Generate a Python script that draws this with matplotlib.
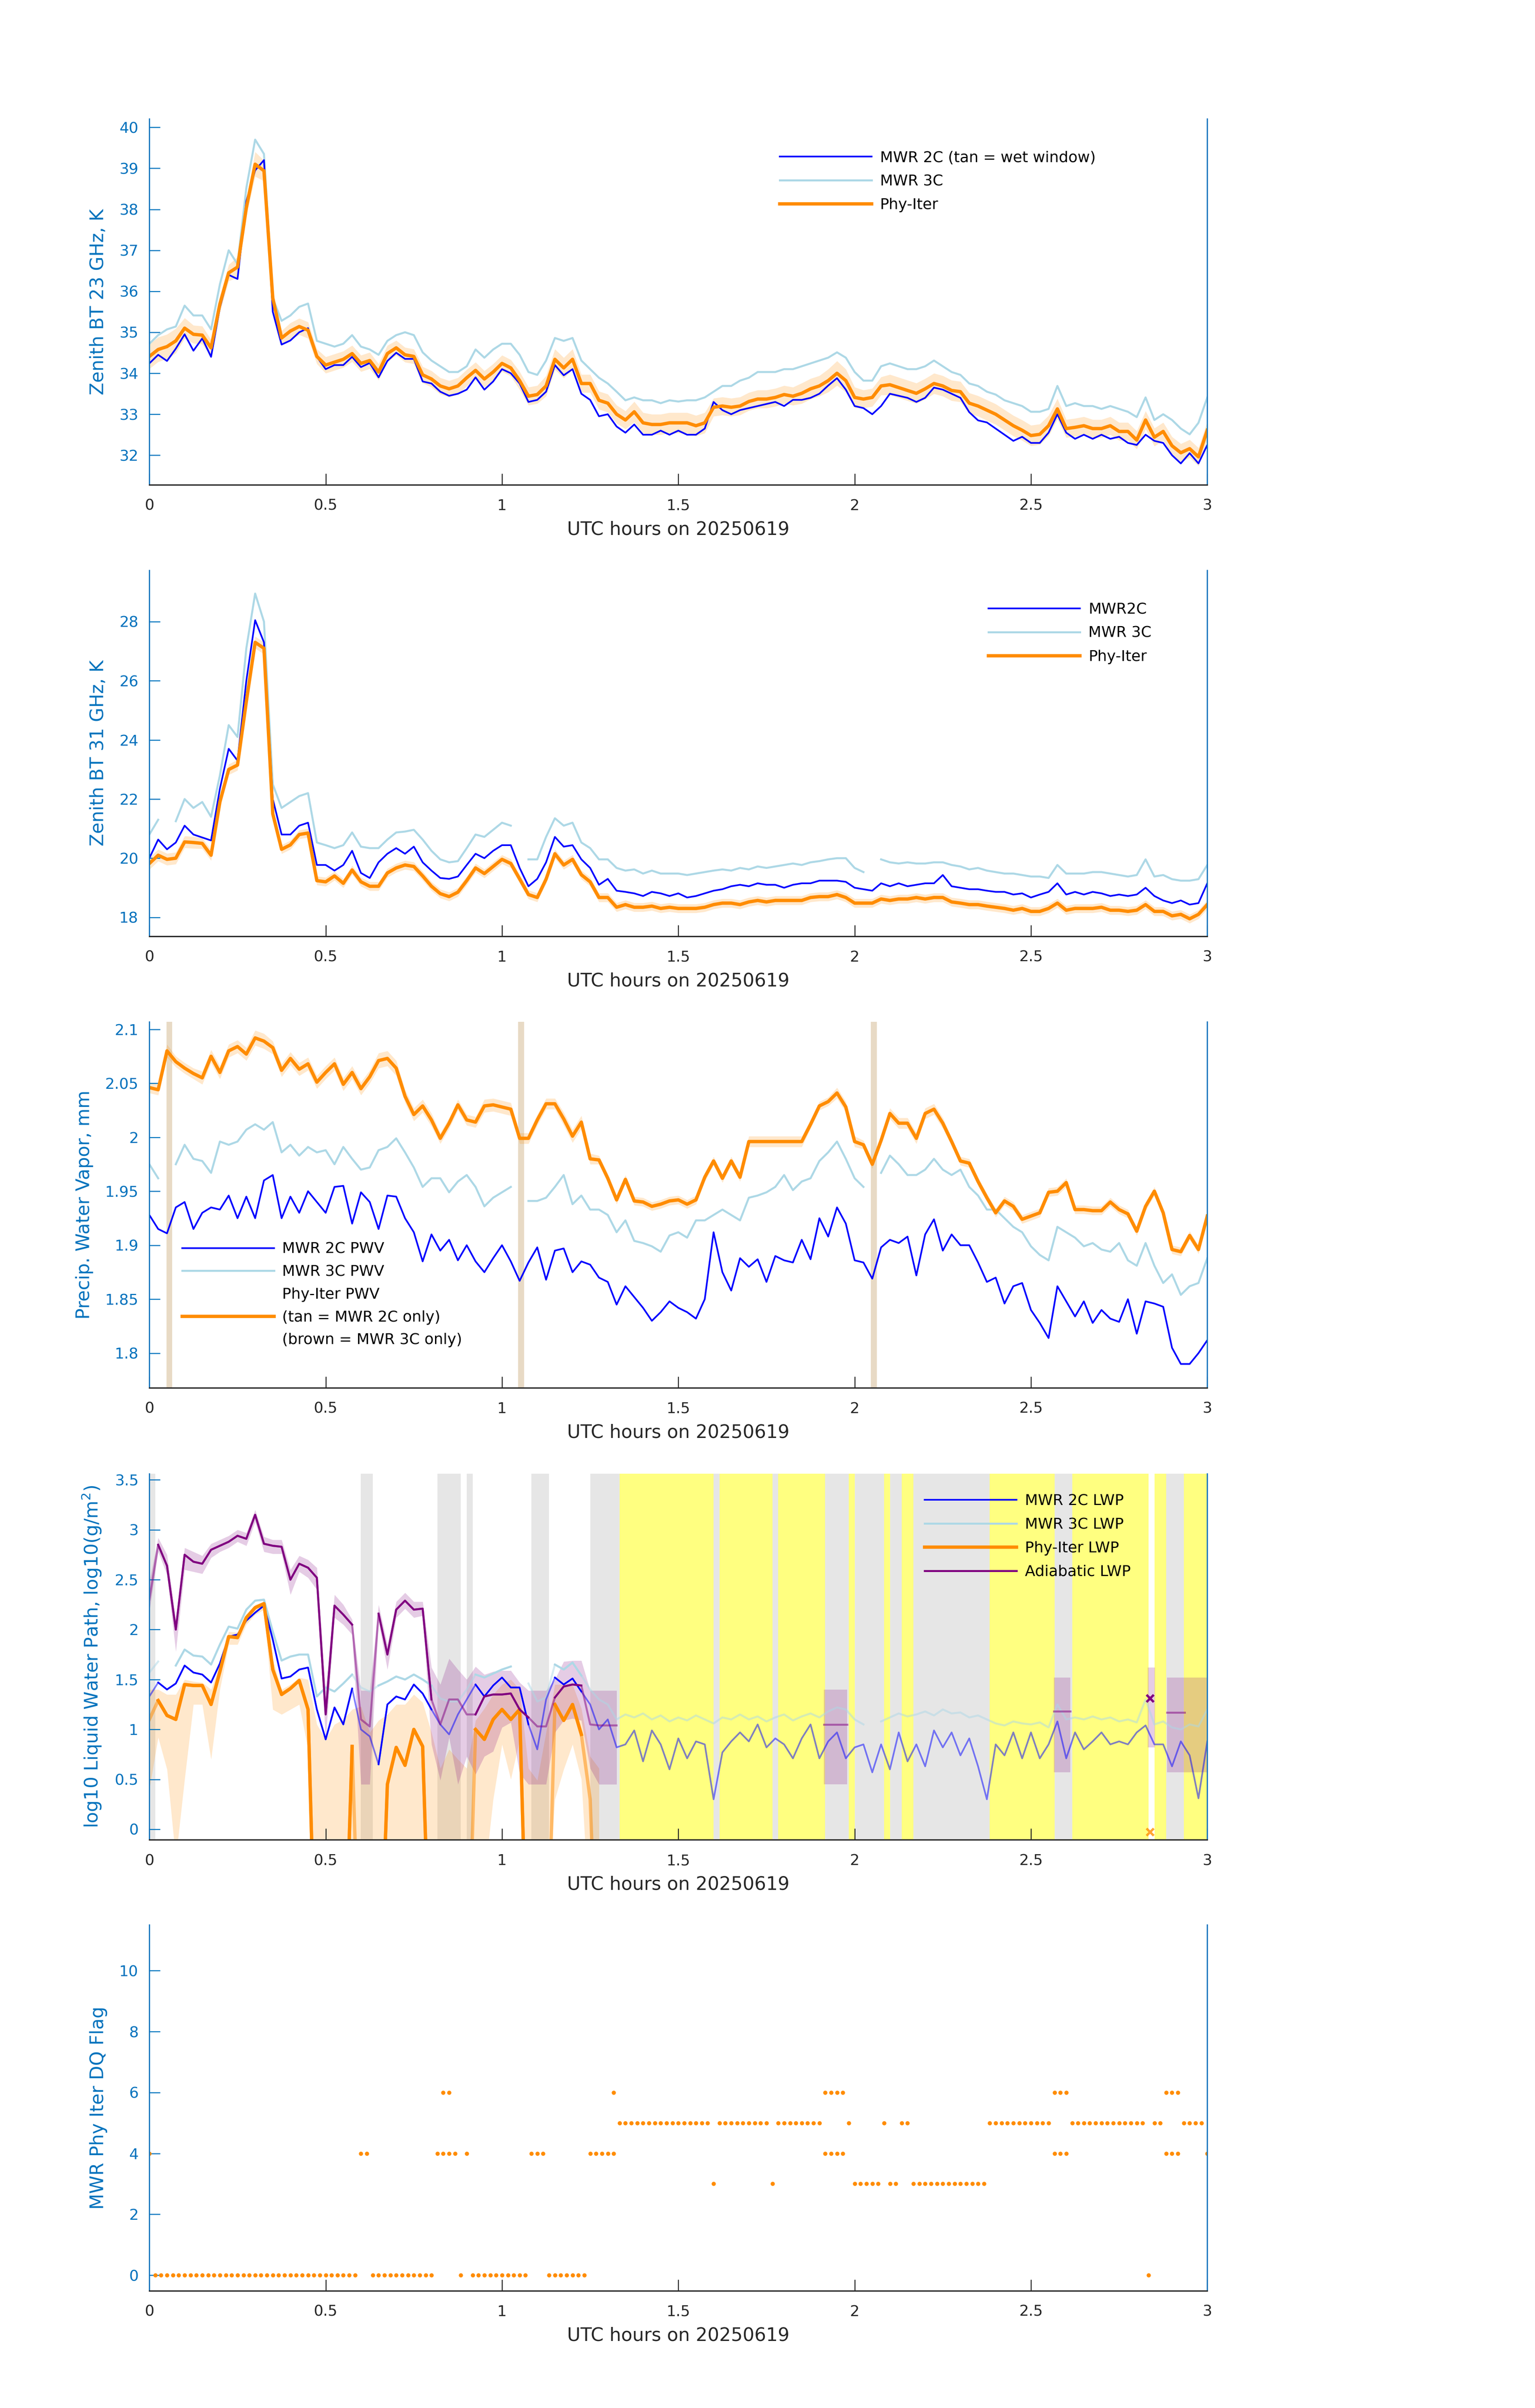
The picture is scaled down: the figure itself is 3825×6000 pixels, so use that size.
import numpy as np
import matplotlib.pyplot as plt
from matplotlib.lines import Line2D

nan = np.nan

# common time base, UTC hours (one reading every 1.5 min)
hours = np.round(np.arange(121) * 0.025, 3)

# ---------------- panel 1 : zenith BT 23 GHz, K ----------------
bt23_2c = [34.24, 34.45, 34.30, 34.60, 34.95, 34.55, 34.85, 34.40, 35.60, 36.40,
           36.30, 38.20, 38.95, 39.20, 35.50, 34.70, 34.80, 35.00, 35.10, 34.40,
           34.10, 34.20, 34.20, 34.40, 34.15, 34.25, 33.90, 34.30, 34.50, 34.35,
           34.35, 33.80, 33.75, 33.55, 33.45, 33.50, 33.60, 33.90, 33.60, 33.80,
           34.10, 34.00, 33.75, 33.30, 33.35, 33.55, 34.20, 33.95, 34.10, 33.50,
           33.35, 32.95, 33.00, 32.70, 32.55, 32.75, 32.50, 32.50, 32.60, 32.50,
           32.60, 32.50, 32.50, 32.65, 33.30, 33.10, 33.00, 33.10, 33.15, 33.20,
           33.25, 33.30, 33.20, 33.35, 33.35, 33.40, 33.50, 33.70, 33.88, 33.60,
           33.20, 33.15, 33.00, 33.20, 33.50, 33.45, 33.40, 33.30, 33.40, 33.65,
           33.60, 33.50, 33.40, 33.05, 32.85, 32.80, 32.65, 32.50, 32.35, 32.45,
           32.30, 32.30, 32.55, 33.00, 32.55, 32.40, 32.50, 32.40, 32.50, 32.40,
           32.45, 32.30, 32.25, 32.50, 32.35, 32.30, 32.00, 31.80, 32.05, 31.80,
           32.25]
bt23_3c = [34.72, 34.93, 35.07, 35.14, 35.65, 35.41, 35.41, 35.07, 36.17, 37.00,
           36.66, 38.52, 39.70, 39.35, 35.83, 35.28, 35.41, 35.62, 35.70, 34.79,
           34.72, 34.65, 34.72, 34.93, 34.65, 34.58, 34.45, 34.79, 34.93, 35.00,
           34.93, 34.51, 34.31, 34.17, 34.03, 34.03, 34.17, 34.58, 34.38, 34.58,
           34.72, 34.72, 34.45, 34.03, 33.96, 34.31, 34.86, 34.79, 34.86, 34.31,
           34.10, 33.89, 33.75, 33.55, 33.34, 33.41, 33.34, 33.34, 33.27, 33.34,
           33.31, 33.34, 33.34, 33.41, 33.55, 33.69, 33.69, 33.82, 33.89, 34.03,
           34.03, 34.03, 34.10, 34.10, 34.17, 34.24, 34.31, 34.38, 34.51, 34.38,
           34.03, 33.82, 33.82, 34.17, 34.24, 34.17, 34.10, 34.10, 34.17, 34.31,
           34.17, 34.03, 33.96, 33.75, 33.69, 33.55, 33.48, 33.34, 33.27, 33.20,
           33.06, 33.06, 33.13, 33.69, 33.20, 33.27, 33.20, 33.20, 33.13, 33.20,
           33.13, 33.06, 32.93, 33.41, 32.86, 33.00, 32.86, 32.65, 32.51, 32.79,
           33.41]
bt23_phy = [34.41, 34.58, 34.65, 34.79, 35.10, 34.95, 34.93, 34.62, 35.69, 36.45,
            36.59, 38.04, 39.10, 38.94, 35.83, 34.86, 35.03, 35.14, 35.05, 34.41,
            34.20, 34.27, 34.34, 34.48, 34.24, 34.31, 34.03, 34.48, 34.62, 34.45,
            34.41, 33.96, 33.86, 33.69, 33.62, 33.69, 33.89, 34.07, 33.86, 34.03,
            34.24, 34.13, 33.82, 33.44, 33.48, 33.69, 34.34, 34.13, 34.34, 33.75,
            33.75, 33.34, 33.27, 33.00, 32.86, 33.06, 32.79, 32.75, 32.75, 32.79,
            32.79, 32.79, 32.72, 32.79, 33.17, 33.20, 33.17, 33.20, 33.31, 33.37,
            33.37, 33.41, 33.48, 33.44, 33.51, 33.62, 33.69, 33.82, 34.00, 33.82,
            33.41, 33.37, 33.41, 33.69, 33.72, 33.65, 33.58, 33.51, 33.62, 33.75,
            33.69, 33.58, 33.55, 33.27, 33.20, 33.10, 33.00, 32.86, 32.72, 32.61,
            32.48, 32.51, 32.72, 33.13, 32.65, 32.68, 32.72, 32.65, 32.65, 32.72,
            32.58, 32.58, 32.37, 32.86, 32.44, 32.58, 32.23, 32.06, 32.16, 31.96,
            32.61]
bt23_phy_unc = [.30, .30, .30, .30, .25, .22, .22, .20, .20, .20,
                .25, .20, .30, .25, .20, .18, .20, .20, .20, .18,
                .20, .20, .20, .20, .20, .20, .20, .20, .18, .18,
                .18, .20, .20, .20, .20, .20, .20, .20, .20, .20,
                .20, .20, .22, .22, .22, .25, .25, .25, .25, .22,
                .22, .22, .22, .22, .22, .25, .25, .25, .25, .25,
                .25, .25, .25, .25, .22, .22, .22, .22, .22, .22,
                .22, .22, .22, .22, .25, .25, .25, .28, .30, .28,
                .25, .22, .22, .22, .25, .25, .25, .25, .25, .25,
                .25, .25, .25, .25, .25, .25, .25, .25, .25, .25,
                .25, .25, .25, .25, .22, .22, .22, .22, .22, .22,
                .22, .22, .22, .22, .22, .22, .22, .22, .22, .22,
                .22]

# ---------------- panel 2 : zenith BT 31 GHz, K ----------------
bt31_2c = [20.00, 20.63, 20.30, 20.53, 21.10, 20.80, 20.70, 20.60, 22.35, 23.70,
           23.30, 26.00, 28.05, 27.30, 22.00, 20.80, 20.80, 21.10, 21.20, 19.77,
           19.77, 19.58, 19.77, 20.25, 19.50, 19.33, 19.86, 20.15, 20.34, 20.15,
           20.39, 19.86, 19.58, 19.33, 19.30, 19.38, 19.77, 20.15, 20.00, 20.25,
           20.44, 20.44, 19.67, 19.05, 19.30, 19.86, 20.72, 20.39, 20.44, 19.96,
           19.67, 19.10, 19.30, 18.90, 18.86, 18.81, 18.72, 18.86, 18.81, 18.72,
           18.81, 18.67, 18.72, 18.81, 18.90, 18.95, 19.05, 19.10, 19.05, 19.15,
           19.10, 19.10, 19.00, 19.10, 19.15, 19.15, 19.24, 19.24, 19.24, 19.20,
           19.00, 18.95, 18.90, 19.15, 19.05, 19.15, 19.05, 19.10, 19.15, 19.15,
           19.43, 19.05, 19.00, 18.95, 18.95, 18.90, 18.86, 18.86, 18.77, 18.81,
           18.67, 18.77, 18.86, 19.15, 18.77, 18.86, 18.77, 18.86, 18.81, 18.72,
           18.77, 18.72, 18.77, 19.00, 18.72, 18.57, 18.48, 18.57, 18.43, 18.48,
           19.15]
bt31_3c = [20.80, 21.30, nan, 21.25, 22.00, 21.70, 21.90, 21.40, 22.80, 24.50,
           24.10, 27.10, 28.95, 28.00, 22.50, 21.70, 21.90, 22.10, 22.20, 20.53,
           20.44, 20.34, 20.44, 20.87, 20.39, 20.34, 20.34, 20.63, 20.87, 20.90,
           20.96, 20.63, 20.25, 19.96, 19.86, 19.90, 20.34, 20.80, 20.72, 20.96,
           21.20, 21.10, nan, 19.96, 19.96, 20.72, 21.35, 21.10, 21.20, 20.53,
           20.34, 19.96, 19.96, 19.67, 19.58, 19.62, 19.48, 19.58, 19.48, 19.48,
           19.48, 19.43, 19.48, 19.53, 19.58, 19.62, 19.58, 19.67, 19.62, 19.72,
           19.67, 19.72, 19.77, 19.82, 19.77, 19.86, 19.90, 19.96, 20.00, 20.00,
           19.67, 19.53, nan, 19.96, 19.86, 19.82, 19.86, 19.82, 19.82, 19.86,
           19.86, 19.77, 19.72, 19.62, 19.67, 19.58, 19.53, 19.48, 19.48, 19.43,
           19.38, 19.38, 19.33, 19.77, 19.48, 19.48, 19.48, 19.53, 19.53, 19.48,
           19.43, 19.38, 19.43, 19.96, 19.38, 19.43, 19.29, 19.24, 19.24, 19.29,
           19.77]
bt31_phy = [19.82, 20.10, 19.96, 20.00, 20.55, 20.53, 20.50, 20.10, 21.90, 23.00,
            23.15, 25.30, 27.30, 27.10, 21.50, 20.30, 20.45, 20.80, 20.85, 19.24,
            19.20, 19.40, 19.15, 19.60, 19.20, 19.05, 19.05, 19.50, 19.67, 19.77,
            19.72, 19.40, 19.05, 18.80, 18.70, 18.85, 19.24, 19.67, 19.48, 19.72,
            19.96, 19.82, 19.30, 18.77, 18.67, 19.29, 20.15, 19.77, 19.96, 19.44,
            19.20, 18.67, 18.67, 18.34, 18.43, 18.34, 18.34, 18.38, 18.30, 18.34,
            18.30, 18.30, 18.30, 18.34, 18.43, 18.48, 18.48, 18.43, 18.52, 18.57,
            18.52, 18.57, 18.57, 18.57, 18.57, 18.67, 18.70, 18.70, 18.77, 18.67,
            18.48, 18.48, 18.48, 18.62, 18.57, 18.62, 18.62, 18.67, 18.62, 18.67,
            18.67, 18.52, 18.48, 18.43, 18.43, 18.38, 18.34, 18.30, 18.24, 18.30,
            18.20, 18.20, 18.30, 18.48, 18.24, 18.30, 18.30, 18.30, 18.34, 18.24,
            18.24, 18.20, 18.24, 18.43, 18.20, 18.20, 18.05, 18.10, 17.95, 18.10,
            18.43]
bt31_phy_unc = [.20, .20, .20, .20, .20, .20, .18, .18, .18, .18,
                .18, .18, .20, .20, .18, .15, .15, .15, .15, .15] + [.15] * 101

# ---------------- panel 3 : precipitable water vapour, mm ----------------
pwv_2c = [1.928, 1.915, 1.911, 1.935, 1.940, 1.915, 1.930, 1.935, 1.933, 1.946,
          1.925, 1.945, 1.925, 1.960, 1.965, 1.925, 1.945, 1.930, 1.950, 1.940,
          1.930, 1.954, 1.955, 1.920, 1.949, 1.940, 1.915, 1.946, 1.945, 1.925,
          1.912, 1.885, 1.910, 1.895, 1.905, 1.886, 1.900, 1.885, 1.875, 1.888,
          1.900, 1.885, 1.867, 1.884, 1.898, 1.868, 1.895, 1.897, 1.875, 1.885,
          1.882, 1.870, 1.866, 1.845, 1.862, 1.852, 1.842, 1.830, 1.838, 1.848,
          1.842, 1.838, 1.832, 1.850, 1.912, 1.875, 1.858, 1.888, 1.880, 1.887,
          1.866, 1.890, 1.886, 1.884, 1.905, 1.887, 1.925, 1.908, 1.935, 1.920,
          1.886, 1.884, 1.869, 1.898, 1.905, 1.902, 1.908, 1.872, 1.910, 1.924,
          1.895, 1.910, 1.900, 1.900, 1.884, 1.866, 1.870, 1.846, 1.862, 1.865,
          1.840, 1.828, 1.814, 1.862, 1.848, 1.834, 1.848, 1.828, 1.840, 1.832,
          1.829, 1.850, 1.818, 1.848, 1.846, 1.843, 1.805, 1.790, 1.790, 1.800,
          1.812]
pwv_3c = [1.975, 1.962, nan, 1.975, 1.993, 1.980, 1.978, 1.967, 1.996, 1.993,
          1.996, 2.007, 2.012, 2.007, 2.014, 1.986, 1.993, 1.983, 1.991, 1.986,
          1.988, 1.975, 1.991, 1.980, 1.970, 1.972, 1.988, 1.991, 1.999, 1.986,
          1.972, 1.954, 1.962, 1.962, 1.949, 1.959, 1.965, 1.954, 1.936, 1.944,
          1.949, 1.954, nan, 1.941, 1.941, 1.944, 1.954, 1.965, 1.938, 1.946,
          1.933, 1.933, 1.928, 1.912, 1.923, 1.904, 1.902, 1.899, 1.894, 1.909,
          1.912, 1.907, 1.923, 1.923, 1.928, 1.933, 1.928, 1.923, 1.944, 1.946,
          1.949, 1.954, 1.965, 1.951, 1.959, 1.962, 1.978, 1.986, 1.996, 1.980,
          1.962, 1.954, nan, 1.967, 1.983, 1.975, 1.965, 1.965, 1.970, 1.980,
          1.970, 1.965, 1.970, 1.954, 1.946, 1.933, 1.933, 1.925, 1.917, 1.912,
          1.899, 1.891, 1.886, 1.917, 1.912, 1.907, 1.899, 1.902, 1.896, 1.894,
          1.902, 1.886, 1.881, 1.902, 1.881, 1.865, 1.873, 1.854, 1.862, 1.865,
          1.888]
pwv_phy = [2.046, 2.044, 2.080, 2.070, 2.064, 2.059, 2.055, 2.075, 2.060, 2.080,
           2.084, 2.077, 2.092, 2.089, 2.083, 2.062, 2.073, 2.063, 2.068, 2.051,
           2.060, 2.068, 2.049, 2.060, 2.045, 2.056, 2.071, 2.073, 2.064, 2.038,
           2.021, 2.029, 2.016, 1.999, 2.013, 2.030, 2.016, 2.014, 2.029, 2.030,
           2.028, 2.026, 1.999, 1.999, 2.016, 2.031, 2.031, 2.017, 2.001, 2.014,
           1.980, 1.979, 1.962, 1.942, 1.961, 1.941, 1.940, 1.936, 1.938, 1.941,
           1.942, 1.938, 1.942, 1.963, 1.978, 1.962, 1.978, 1.963, 1.996, 1.996,
           1.996, 1.996, 1.996, 1.996, 1.996, 2.012, 2.029, 2.033, 2.041, 2.028,
           1.996, 1.993, 1.975, 1.997, 2.022, 2.013, 2.013, 1.999, 2.022, 2.026,
           2.013, 1.996, 1.978, 1.976, 1.959, 1.944, 1.930, 1.941, 1.936, 1.924,
           1.927, 1.930, 1.949, 1.950, 1.958, 1.933, 1.933, 1.932, 1.932, 1.940,
           1.933, 1.929, 1.913, 1.936, 1.950, 1.930, 1.896, 1.894, 1.909, 1.896,
           1.927]
pwv_phy_unc = [.005, .005, .006, .005, .005, .005, .006, .006, .006, .006,
               .006, .006, .007, .007, .006, .006, .006, .006, .006, .006,
               .006, .006, .006, .006, .006, .006, .007, .007, .007, .006,
               .006, .006, .006, .005, .005, .005, .005, .005, .006, .006,
               .006, .006, .005, .005, .005, .005, .005, .006, .006, .006,
               .005, .004, .004, .004, .004, .004, .004, .004, .004, .004,
               .004, .004, .004, .004, .004, .004, .004, .004, .005, .005,
               .005, .005, .005, .005, .005, .004, .004, .004, .005, .005,
               .005, .004, .004, .004, .005, .005, .005, .005, .005, .005,
               .005, .004, .004, .004, .004, .004, .004, .004, .004, .004,
               .004, .004, .004, .004, .004, .004, .004, .004, .004, .004,
               .004, .004, .004, .004, .004, .004, .004, .004, .004, .004,
               .004]
wet_windows = [(0.049, 0.065), (1.046, 1.063), (2.046, 2.063)]

# ---------------- panel 4 : log10 LWP ----------------
lwp_2c = [1.33, 1.47, 1.40, 1.46, 1.64, 1.57, 1.55, 1.47, 1.66, 1.93,
          1.95, 2.09, 2.17, 2.24, 1.90, 1.51, 1.53, 1.60, 1.62, 1.20,
          0.90, 1.22, 1.05, 1.41, 1.00, 0.93, 0.65, 1.25, 1.33, 1.30,
          1.45, 1.36, 1.20, 1.05, 0.95, 1.15, 1.30, 1.45, 1.33, 1.44,
          1.52, 1.42, 1.42, 1.05, 0.80, 1.30, 1.52, 1.45, 1.51, 1.38,
          1.25, 1.00, 1.10, 0.82, 0.85, 0.99, 0.68, 0.99, 0.85, 0.60,
          0.91, 0.71, 0.88, 0.85, 0.30, 0.77, 0.88, 0.97, 0.88, 1.05,
          0.82, 0.91, 0.85, 0.71, 0.91, 1.05, 0.71, 0.88, 0.97, 0.71,
          0.82, 0.85, 0.57, 0.85, 0.60, 0.97, 0.68, 0.85, 0.63, 0.99,
          0.82, 0.97, 0.74, 0.91, 0.63, 0.30, 0.85, 0.74, 0.97, 0.71,
          0.97, 0.71, 0.85, 1.08, 0.71, 0.97, 0.80, 0.88, 0.97, 0.85,
          0.88, 0.85, 0.97, 1.04, 0.85, 0.85, 0.63, 0.88, 0.74, 0.31,
          0.88]
lwp_3c = [1.57, 1.68, nan, 1.64, 1.80, 1.74, 1.73, 1.65, 1.85, 2.03,
          2.01, 2.20, 2.29, 2.30, 1.98, 1.69, 1.73, 1.75, 1.75, 1.33,
          1.42, 1.38, 1.46, 1.55, 1.42, 1.38, 1.44, 1.48, 1.53, 1.50,
          1.55, 1.50, 1.44, 1.31, 1.28, 1.28, 1.40, 1.55, 1.52, 1.56,
          1.60, 1.63, nan, 1.46, 1.28, 1.32, 1.65, 1.60, 1.67, 1.54,
          1.40, 1.30, 1.25, 1.10, 1.15, 1.12, 1.16, 1.10, 1.14, 1.08,
          1.12, 1.09, 1.14, 1.10, 1.06, 1.12, 1.10, 1.15, 1.10, 1.13,
          1.08, 1.12, 1.15, 1.09, 1.13, 1.16, 1.12, 1.18, 1.22, 1.20,
          1.10, 1.05, nan, 1.08, 1.12, 1.16, 1.13, 1.15, 1.18, 1.14,
          1.20, 1.16, 1.17, 1.12, 1.14, 1.10, 1.06, 1.04, 1.08, 1.06,
          1.05, 1.07, 1.02, 1.25, 1.10, 1.12, 1.10, 1.13, 1.10, 1.12,
          1.08, 1.10, 1.07, 1.30, 1.05, 1.08, 1.02, 1.00, 1.05, 1.03,
          1.20]
# Phy-Iter LWP up to 1.275 h; -2 stands for log10 of a (near) zero path
lwp_phy = [1.10, 1.29, 1.14, 1.10, 1.45, 1.44, 1.44, 1.25, 1.58, 1.93,
           1.92, 2.12, 2.22, 2.26, 1.60, 1.35, 1.41, 1.49, 1.20, -2,
           -2, -2, -2, 0.83, -2, -2, -2, 0.45, 0.82, 0.64,
           1.00, 0.83, -2, -2, -2, -2, -2, 1.00, 0.90, 1.10,
           1.20, 1.10, 1.20, -2, -2, -2, 1.25, 1.09, 1.25, 0.95,
           0.30, -2]
lwp_phy_hi = [1.40, 1.40, 1.35, 1.35, 1.50, 1.48, 1.47, 1.40, 1.65, 1.98,
              1.97, 2.15, 2.25, 2.28, 1.70, 1.40, 1.45, 1.52, 1.50, 1.05,
              0.90, 1.05, 1.10, 1.20, 1.23, 0.97, 1.09, 1.15, 1.25, 1.25,
              1.35, 1.27, 0.97, 0.61, 0.80, 0.70, 0.61, 1.09, 1.21, 1.35,
              1.45, 1.50, 1.40, 0.61, 0.49, 0.97, 1.45, 1.45, 1.45, 1.21,
              0.73, 0.61]
lwp_phy_lo = [0.40, 0.92, 0.60, -0.30, 0.50, 1.25, 1.25, 0.70, 1.40, 1.85,
              1.85, 2.05, 2.15, 2.20, 1.20, 1.15, 1.20, 1.25, 0.80, -1,
              -1, -1, -1, -1, -1, -1, -1, -1, -1, -1,
              -1, -1, -1, -1, -1, -1, -1, -0.2, -0.5, 0.30,
              0.85, 0.50, 0.90, -1, -1, -1, 0.30, 0.60, 0.85, 0.50,
              -1, -1]
# adiabatic LWP up to 1.325 h
lwp_adb = [2.30, 2.85, 2.64, 2.00, 2.75, 2.68, 2.66, 2.80, 2.84, 2.88,
           2.94, 2.91, 3.15, 2.86, 2.84, 2.83, 2.50, 2.66, 2.62, 2.52,
           1.15, 2.24, 2.15, 2.05, 1.10, 1.03, 2.16, 1.75, 2.20, 2.29,
           2.20, 2.21, 1.30, 1.05, 1.30, 1.30, 1.15, 1.15, 1.33, 1.35,
           1.35, 1.36, 1.20, 1.12, 1.03, 1.03, 1.32, 1.43, 1.45, 1.44,
           1.05, 1.04, 1.04, 1.04]
lwp_adb_hi = [2.48, 2.92, 2.75, 2.10, 2.82, 2.78, 2.74, 2.86, 2.90, 2.94,
              3.00, 2.97, 3.20, 2.93, 2.90, 2.90, 2.60, 2.74, 2.70, 2.62,
              1.40, 2.35, 2.25, 2.10, 1.39, 1.39, 2.25, 1.85, 2.28, 2.37,
              2.28, 2.28, 1.62, 1.45, 1.71, 1.60, 1.50, 1.63, 1.55, 1.58,
              1.59, 1.59, 1.47, 1.39, 1.39, 1.39, 1.50, 1.68, 1.69, 1.69,
              1.39, 1.39, 1.39, 1.39]
lwp_adb_lo = [2.18, 2.78, 2.55, 1.78, 2.60, 2.58, 2.56, 2.72, 2.78, 2.82,
              2.88, 2.84, 3.08, 2.78, 2.76, 2.76, 2.35, 2.58, 2.52, 2.40,
              0.90, 2.12, 2.05, 1.95, 0.45, 0.45, 2.08, 1.60, 2.12, 2.21,
              2.12, 2.14, 0.85, 0.49, 0.92, 0.45, 0.73, 0.55, 0.73, 0.78,
              1.02, 1.07, 0.56, 0.45, 0.45, 0.45, 0.97, 1.09, 1.11, 1.09,
              0.61, 0.45, 0.45, 0.45]
# later adiabatic pieces: (start h, end h, lower, upper) and (start h, end h, value)
adb_late_band = [(1.913, 1.979, 0.45, 1.40), (2.565, 2.612, 0.57, 1.52),
                 (2.831, 2.852, 0.82, 1.62), (2.886, 3.000, 0.57, 1.52)]
adb_late_line = [(1.913, 1.979, 1.05), (2.565, 2.612, 1.18), (2.886, 2.936, 1.17)]
cross_t = 2.838
cross_adb = 1.31
cross_phy = -0.03

# ---------------- panel 5 : DQ flag, runs of minutes (first, last, flag) ----------------
flag_runs = [(0, 0, 4), (1, 35, 0), (36, 37, 4), (38, 48, 0), (49, 52, 4), (53, 53, 0),
             (54, 54, 4), (55, 64, 0), (65, 67, 4), (68, 74, 0), (75, 79, 4), (80, 95, 5),
             (96, 96, 3), (97, 105, 5), (106, 106, 3), (107, 114, 5), (115, 118, 4),
             (119, 119, 5), (120, 124, 3), (125, 125, 5), (126, 127, 3), (128, 129, 5),
             (130, 142, 3), (143, 153, 5), (154, 156, 4), (157, 169, 5), (170, 170, 0),
             (171, 172, 5), (173, 175, 4), (176, 179, 5), (180, 180, 4)]
flag6_runs = [(50, 51, 6), (79, 79, 6), (115, 118, 6), (154, 156, 6), (173, 175, 6)]

# ---------------- styling ----------------
AXBLUE = '#0072BD'
DARK = '#262626'
C2C = '#0000FF'
C3C = '#ADD8E6'
CPHY = '#FF8C00'
CADB = '#800080'
GRAY = '#E6E6E6'
YELLOW = '#FFFF80'
TAN = '#E8DAC5'

xticks = [0, 0.5, 1, 1.5, 2, 2.5, 3]
xticklabels = ['0', '0.5', '1', '1.5', '2', '2.5', '3']

fig = plt.figure(figsize=(12.75, 20), dpi=300)
bottoms = [0.7987, 0.6112, 0.4237, 0.2360, 0.0487]
axs = [fig.add_axes([0.0973, b, 0.6892, 0.152]) for b in bottoms]


def style(ax, ylim, yticks, yticklabels, ylabel):
    ax.set_xlim(0, 3)
    ax.set_ylim(*ylim)
    ax.set_xticks(xticks)
    ax.set_xticklabels(xticklabels)
    ax.set_yticks(yticks)
    ax.set_yticklabels(yticklabels)
    ax.spines['top'].set_visible(False)
    for s in ('left', 'right'):
        ax.spines[s].set_color(AXBLUE)
        ax.spines[s].set_linewidth(0.7)
    ax.spines['bottom'].set_color(DARK)
    ax.spines['bottom'].set_linewidth(0.8)
    ax.tick_params(axis='x', direction='in', length=6.7, width=0.6, colors=DARK,
                   labelsize=9, pad=8.4)
    ax.tick_params(axis='y', direction='in', length=6.5, width=0.6, colors=AXBLUE,
                   labelsize=9, pad=6.5)
    ax.set_xlabel('UTC hours on 20250619', fontsize=11, color=DARK, labelpad=4.5)
    ax.set_ylabel(ylabel, fontsize=11, color=AXBLUE, labelpad=7)


def legend(ax, handles, labels, x, ytop, spacing=0.61):
    ax.legend(handles, labels, loc='upper left', bbox_to_anchor=(x, ytop),
              frameon=False, fontsize=9, handlelength=6.1, handletextpad=0.55,
              labelspacing=spacing, borderpad=0, borderaxespad=0)


def proxy(color, lw):
    return Line2D([], [], color=color, lw=lw)


# panel 1
ax = axs[0]
v = np.array(bt23_phy)
u = np.array(bt23_phy_unc)
ax.fill_between(hours, v - u, v + u, color=CPHY, alpha=0.2, lw=0)
ax.plot(hours, bt23_3c, color=C3C, lw=1.2)
ax.plot(hours, bt23_2c, color=C2C, lw=1.0)
ax.plot(hours, bt23_phy, color=CPHY, lw=2.0)
style(ax, (31.28, 40.21), range(32, 41), [str(k) for k in range(32, 41)],
      'Zenith BT 23 GHz, K')
legend(ax, [proxy(C2C, 1.0), proxy(C3C, 1.2), proxy(CPHY, 2.0)],
       ['MWR 2C (tan = wet window)', 'MWR 3C', 'Phy-Iter'], 0.596, 0.913)

# panel 2
ax = axs[1]
v = np.array(bt31_phy)
u = np.array(bt31_phy_unc)
ax.fill_between(hours, v - u, v + u, color=CPHY, alpha=0.2, lw=0)
ax.plot(hours, bt31_3c, color=C3C, lw=1.2)
ax.plot(hours, bt31_2c, color=C2C, lw=1.0)
ax.plot(hours, bt31_phy, color=CPHY, lw=2.0)
style(ax, (17.36, 29.74), range(18, 29, 2), [str(k) for k in range(18, 29, 2)],
      'Zenith BT 31 GHz, K')
legend(ax, [proxy(C2C, 1.0), proxy(C3C, 1.2), proxy(CPHY, 2.0)],
       ['MWR2C', 'MWR 3C', 'Phy-Iter'], 0.793, 0.912)

# panel 3
ax = axs[2]
for a, b in wet_windows:
    ax.axvspan(a, b, color=TAN, lw=0, zorder=0.5)
v = np.array(pwv_phy)
u = np.array(pwv_phy_unc)
ax.fill_between(hours, v - u, v + u, color=CPHY, alpha=0.2, lw=0)
ax.plot(hours, pwv_3c, color=C3C, lw=1.2)
ax.plot(hours, pwv_2c, color=C2C, lw=1.0)
ax.plot(hours, pwv_phy, color=CPHY, lw=2.0)
style(ax, (1.768, 2.107), [1.8, 1.85, 1.9, 1.95, 2.0, 2.05, 2.1],
      ['1.8', '1.85', '1.9', '1.95', '2', '2.05', '2.1'], 'Precip. Water Vapor, mm')
legend(ax, [proxy(C2C, 1.0), proxy(C3C, 1.2), proxy('none', 2.0), proxy(CPHY, 2.0),
            proxy('none', 2.0)],
       ['MWR 2C PWV', 'MWR 3C PWV', 'Phy-Iter PWV', '(tan = MWR 2C only)',
        '(brown = MWR 3C only)'], 0.031, 0.398, spacing=0.55)

# panel 4
ax = axs[3]
minute_flag = np.zeros(182, dtype=int)
for a, b, f in flag_runs:
    minute_flag[a:b + 1] = f
    if f in (3, 4):
        ax.axvspan(a / 60, (b + 1) / 60, color=GRAY, lw=0, zorder=0.2)
    elif f == 5:
        ax.axvspan(a / 60, (b + 1) / 60, color=YELLOW, lw=0, zorder=0.2)
flagged = minute_flag[np.floor(hours * 60 + 1e-6).astype(int)] > 0

n_phy = len(lwp_phy)
n_adb = len(lwp_adb)
ax.fill_between(hours[:n_phy], lwp_phy_lo, lwp_phy_hi, color=CPHY, alpha=0.2, lw=0)
ax.fill_between(hours[:n_adb], lwp_adb_lo, lwp_adb_hi, color=CADB, alpha=0.2, lw=0)
for a, b, lo, hi in adb_late_band:
    ax.fill_between([a, b], [lo, lo], [hi, hi], color=CADB, alpha=0.2, lw=0)


def two_tone(t, y, color, lw):
    y = np.array(y, dtype=float)
    ax.plot(t, y, color=color, lw=lw, alpha=0.5)
    ax.plot(t, np.where(flagged[:len(t)], nan, y), color=color, lw=lw)


two_tone(hours, lwp_3c, C3C, 1.2)
two_tone(hours, lwp_2c, C2C, 1.0)
two_tone(hours[:n_phy], lwp_phy, CPHY, 2.0)
two_tone(hours[:n_adb], lwp_adb, CADB, 1.2)
for a, b, val in adb_late_line:
    ax.plot([a, b], [val, val], color=CADB, lw=1.2, alpha=0.5)
ax.plot(cross_t, cross_adb, 'x', color=CADB, ms=4.5, mew=1.4)
ax.plot(cross_t, cross_phy, 'x', color=CPHY, ms=4.5, mew=1.4, alpha=0.8)
style(ax, (-0.105, 3.562), [0, 0.5, 1, 1.5, 2, 2.5, 3, 3.5],
      ['0', '0.5', '1', '1.5', '2', '2.5', '3', '3.5'],
      'log10 Liquid Water Path, log10(g/m$^2$)')
legend(ax, [proxy(C2C, 1.0), proxy(C3C, 1.2), proxy(CPHY, 2.0), proxy(CADB, 1.2)],
       ['MWR 2C LWP', 'MWR 3C LWP', 'Phy-Iter LWP', 'Adiabatic LWP'], 0.733, 0.945)

# panel 5
ax = axs[4]
for a, b, f in flag_runs + flag6_runs:
    mins = np.arange(a, b + 1)
    ax.plot(mins / 60, np.full(len(mins), f), 'o', ms=2.5, color=CPHY, mec='none')
style(ax, (-0.51, 11.51), range(0, 11, 2), [str(k) for k in range(0, 11, 2)],
      'MWR Phy Iter DQ Flag')

fig.savefig('out.png', dpi=300)
